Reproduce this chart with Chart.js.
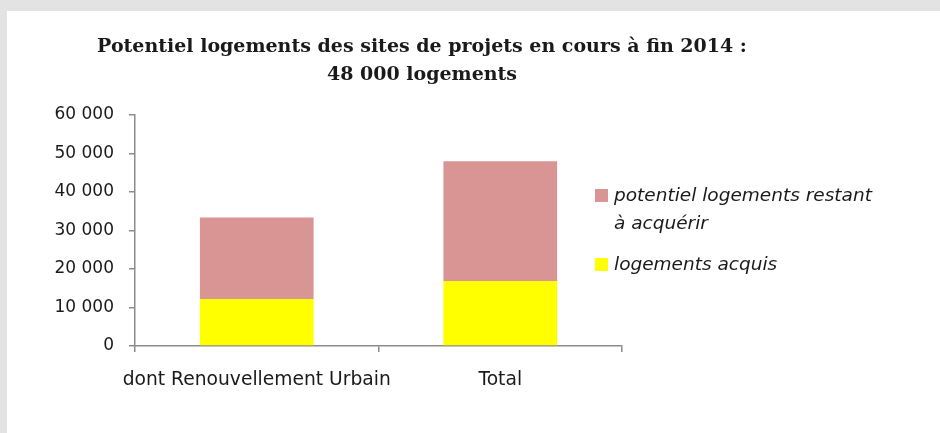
<!DOCTYPE html>
<html>
<head>
<meta charset="utf-8">
<script src="https://cdn.jsdelivr.net/npm/chart.js@4.4.1/dist/chart.umd.min.js"></script>
<style>
  html, body { margin: 0; padding: 0; background: #e3e3e3; width: 940px; height: 433px; overflow: hidden; }
  #frame { position: absolute; left: 7px; top: 11px; width: 933px; height: 422px; background: #ffffff; }
  canvas { display: block; }
</style>
</head>
<body>
<div id="frame"><canvas id="c" width="933" height="422"></canvas></div>
<script>
const categories = ["dont Renouvellement Urbain", "Total"];
const acquis = [12200, 16900];
const restant = [21200, 31100];
const seriesLabels = ["logements acquis", "potentiel logements restant à\u00a0acquérir"];
const titleLines = ["Potentiel logements des sites de projets en cours à fin 2014 :", "48 000 logements"];
const yTicks = [0, 10000, 20000, 30000, 40000, 50000, 60000];

const fmt = v => String(v).replace(/\B(?=(\d{3})+(?!\d))/g, " ");

const overlay = {
  id: 'overlay',
  afterDraw(chart) {
    const ctx = chart.ctx;
    ctx.save();
    // title
    ctx.fillStyle = '#1a1a1a';
    ctx.font = 'bold 19px "DejaVu Serif"';
    ctx.textAlign = 'center';
    ctx.textBaseline = 'middle';
    ctx.fillText(titleLines[0], 415, 36);
    ctx.fillText(titleLines[1], 415, 64);
    // legend (reverse order: top series first)
    ctx.textAlign = 'left';
    ctx.font = 'italic 18.5px "DejaVu Sans"';
    const ds = chart.data.datasets.slice().reverse();
    let y = 185;
    const boxX = 588, textX = 607, maxW = 290, lh = 28;
    ds.forEach((d) => {
      const words = d.label.split(' ');
      const lines = [];
      let cur = '';
      words.forEach(w => {
        const t = cur ? cur + ' ' + w : w;
        if (ctx.measureText(t).width > maxW && cur) { lines.push(cur); cur = w; } else cur = t;
      });
      if (cur) lines.push(cur);
      ctx.fillStyle = d.backgroundColor;
      ctx.fillRect(boxX, y - 7, 13, 13);
      ctx.fillStyle = '#1a1a1a';
      lines.forEach((ln, k) => ctx.fillText(ln, textX, y + k * lh));
      y += lines.length * lh + 13;
    });
    ctx.restore();
  }
};

new Chart(document.getElementById('c'), {
  type: 'bar',
  data: {
    labels: categories,
    datasets: [
      { label: seriesLabels[0], data: acquis, backgroundColor: '#ffff00', barPercentage: 0.467, categoryPercentage: 1 },
      { label: seriesLabels[1], data: restant, backgroundColor: '#d99594', barPercentage: 0.467, categoryPercentage: 1 }
    ]
  },
  options: {
    responsive: false,
    animation: false,
    layout: { padding: { left: 28, top: 104, right: 318, bottom: 47 } },
    plugins: { legend: { display: false }, title: { display: false }, tooltip: { enabled: false } },
    scales: {
      x: {
        stacked: true,
        afterFit(s) { s.height = 40; },
        grid: { offset: true, drawOnChartArea: false, drawTicks: true, tickLength: 6, color: '#8c8c8c', lineWidth: 1.5 },
        border: { display: true, color: '#8c8c8c', width: 1.5 },
        ticks: { color: '#1a1a1a', font: { family: 'DejaVu Sans', size: 18.7 }, padding: 17, maxRotation: 0, autoSkip: false }
      },
      y: {
        stacked: true,
        min: 0, max: 60000,
        afterFit(s) { s.width = 100; },
        afterBuildTicks(s) { s.ticks = yTicks.map(v => ({ value: v })); },
        grid: { drawOnChartArea: false, drawTicks: true, tickLength: 6, color: '#8c8c8c', lineWidth: 1.5 },
        border: { display: true, color: '#8c8c8c', width: 1.5 },
        ticks: { color: '#1a1a1a', font: { family: 'DejaVu Sans', size: 17 }, padding: 15, callback: v => fmt(v) }
      }
    }
  },
  plugins: [overlay]
});
</script>
</body>
</html>
